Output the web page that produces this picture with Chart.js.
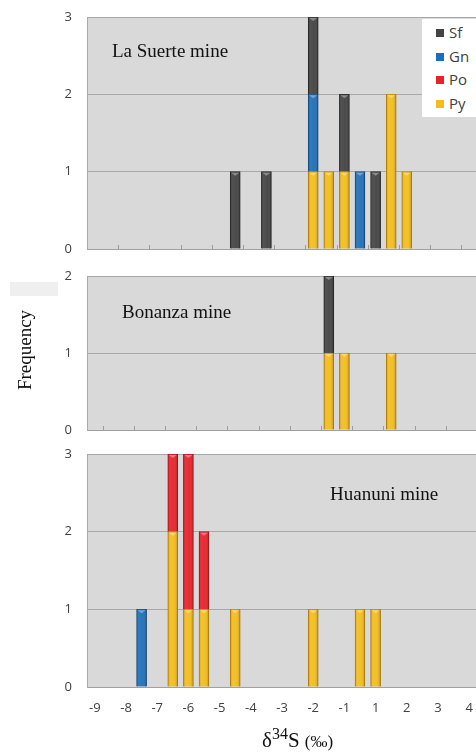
<!DOCTYPE html>
<html>
<head>
<meta charset="utf-8">
<script src="https://cdn.jsdelivr.net/npm/chart.js@4.4.1/dist/chart.umd.min.js"></script>
<style>
  html, body { margin: 0; padding: 0; background: #fff; overflow: hidden; width: 476px; height: 754px; }
  canvas { position: absolute; left: 0; }
  .lbl { position: absolute; font-family: "Liberation Serif", "Times New Roman", serif; color: #111; white-space: nowrap; }
  #legend { position: absolute; left: 422px; top: 19px; width: 60px; height: 98px; background: #fff;
            font-family: "Open Sans", sans-serif; font-size: 15px; color: #404040; }
  #legend div { position: absolute; left: 14px; height: 16px; line-height: 16px; }
  #legend span { display: inline-block; width: 8px; height: 8px; margin-right: 5px; vertical-align: 1px; }
</style>
</head>
<body>
<canvas id="c1" width="480" height="260" style="top:0"></canvas>
<canvas id="c2" width="480" height="180" style="top:260px"></canvas>
<canvas id="c3" width="480" height="314" style="top:440px"></canvas>

<div class="lbl" style="left:112px;top:40px;font-size:19px">La Suerte mine</div>
<div class="lbl" style="left:122px;top:301px;font-size:19px">Bonanza mine</div>
<div class="lbl" style="left:330px;top:483px;font-size:19px">Huanuni mine</div>
<div style="position:absolute;left:10px;top:282px;width:48px;height:14px;background:#efefef"></div>
<div class="lbl" style="left:-20px;top:339px;font-size:19px;width:90px;text-align:center;transform:rotate(-90deg)">Frequency</div>
<div class="lbl" style="left:262px;top:725px;font-size:21px">&delta;<sup style="font-size:16px">34</sup>S <span style="font-size:17px">(&permil;)</span></div>
<div id="legend"></div>

<script>
// delta34S bins along the x axis (as labelled in the figure)
const bins = ['-9','-8.5','-8','-7.5','-7','-6.5','-6','-5.5','-5','-4.5','-4','-3.5','-3',
              '-2.5','-2','-1.5','-1','-0.5','1','1.5','2','2.5','3','3.5','4'];

// La Suerte mine
const suerteSf = [0,0,0,0,0,0,0,0,0,1,0,1,0,0,1,0,1,0,1,0,0,0,0,0,0];
const suerteGn = [0,0,0,0,0,0,0,0,0,0,0,0,0,0,1,0,0,1,0,0,0,0,0,0,0];
const suertePo = [0,0,0,0,0,0,0,0,0,0,0,0,0,0,0,0,0,0,0,0,0,0,0,0,0];
const suertePy = [0,0,0,0,0,0,0,0,0,0,0,0,0,0,1,1,1,0,0,2,1,0,0,0,0];

// Bonanza mine
const bonanzaSf = [0,0,0,0,0,0,0,0,0,0,0,0,0,0,0,1,0,0,0,0,0,0,0,0,0];
const bonanzaGn = [0,0,0,0,0,0,0,0,0,0,0,0,0,0,0,0,0,0,0,0,0,0,0,0,0];
const bonanzaPo = [0,0,0,0,0,0,0,0,0,0,0,0,0,0,0,0,0,0,0,0,0,0,0,0,0];
const bonanzaPy = [0,0,0,0,0,0,0,0,0,0,0,0,0,0,0,1,1,0,0,1,0,0,0,0,0];

// Huanuni mine
const huanuniSf = [0,0,0,0,0,0,0,0,0,0,0,0,0,0,0,0,0,0,0,0,0,0,0,0,0];
const huanuniGn = [0,0,0,1,0,0,0,0,0,0,0,0,0,0,0,0,0,0,0,0,0,0,0,0,0];
const huanuniPo = [0,0,0,0,0,1,2,1,0,0,0,0,0,0,0,0,0,0,0,0,0,0,0,0,0];
const huanuniPy = [0,0,0,0,0,2,1,1,0,1,0,0,0,0,1,0,0,1,1,0,0,0,0,0,0];

const freqTicks1 = [0, 1, 2, 3];
const freqTicks2 = [0, 1, 2];
const freqTicks3 = [0, 1, 2, 3];

const colours = {
  Sf: ['#434343', '#2a2a2a'],
  Gn: ['#1f6fb8', '#15538c'],
  Po: ['#e8222a', '#b5161c'],
  Py: ['#f3bd1e', '#c8900c']
};

// plot background
const bgPlugin = {
  id: 'bg',
  beforeDraw(chart) {
    const a = chart.chartArea, ctx = chart.ctx;
    ctx.save();
    ctx.fillStyle = '#d9d9d9';
    ctx.fillRect(a.left, a.top, a.right - a.left, a.bottom - a.top);
    ctx.restore();
  }
};

// Excel-like shading on bars
const bevelPlugin = {
  id: 'bevel',
  afterDatasetsDraw(chart) {
    const ctx = chart.ctx;
    chart.data.datasets.forEach((ds, di) => {
      chart.getDatasetMeta(di).data.forEach(bar => {
        const h = bar.base - bar.y;
        if (!(h > 0.5)) return;
        const l = bar.x - bar.width / 2, r = bar.x + bar.width / 2;
        const g = ctx.createLinearGradient(l, 0, r, 0);
        g.addColorStop(0, 'rgba(0,0,0,0.22)');
        g.addColorStop(0.25, 'rgba(255,255,255,0.08)');
        g.addColorStop(0.6, 'rgba(255,255,255,0.04)');
        g.addColorStop(1, 'rgba(0,0,0,0.25)');
        ctx.save();
        ctx.fillStyle = g;
        ctx.fillRect(l, bar.y, bar.width, h);
        ctx.fillStyle = 'rgba(255,255,255,0.35)';
        ctx.beginPath();
        ctx.moveTo(l + 1, bar.y + 1);
        ctx.lineTo(r - 1, bar.y + 1);
        ctx.lineTo(bar.x, bar.y + 4);
        ctx.closePath();
        ctx.fill();
        ctx.restore();
      });
    });
  }
};

// small inward tick marks on the baseline
const tickPlugin = {
  id: 'minorTicks',
  afterDraw(chart, args, opts) {
    if (opts.parity === undefined) return;
    const xs = chart.scales.x, a = chart.chartArea, ctx = chart.ctx;
    ctx.save();
    ctx.strokeStyle = '#9c9c9c';
    ctx.lineWidth = 1;
    for (let i = 1; i < bins.length; i++) {
      if (i % 2 !== opts.parity) continue;
      const x = Math.round((xs.getPixelForValue(i - 1) + xs.getPixelForValue(i)) / 2) + 0.5;
      ctx.beginPath();
      ctx.moveTo(x, a.bottom - 4);
      ctx.lineTo(x, a.bottom);
      ctx.stroke();
    }
    ctx.restore();
  }
};

function makeChart(id, sf, gn, po, py, yTicks, pad, showX, parity) {
  const order = [['Py', py], ['Po', po], ['Gn', gn], ['Sf', sf]];
  return new Chart(document.getElementById(id), {
    type: 'bar',
    data: {
      labels: bins,
      datasets: order.map(([name, vals]) => ({
        label: name,
        data: vals,
        backgroundColor: colours[name][0],
        borderColor: colours[name][1],
        borderWidth: 1,
        barThickness: 10
      }))
    },
    options: {
      responsive: false,
      animation: false,
      layout: { padding: { top: pad[0], bottom: pad[1], right: 3, left: 0 } },
      plugins: {
        legend: { display: false },
        tooltip: { enabled: false },
        minorTicks: { parity: parity }
      },
      scales: {
        x: {
          stacked: true,
          grid: { drawOnChartArea: false, drawTicks: false },
          border: { color: '#a0a0a0' },
          ticks: {
            display: showX,
            autoSkip: false,
            maxRotation: 0,
            padding: 13,
            color: '#404040',
            font: { family: 'Open Sans', size: 13 },
            callback: (v, i) => (i % 2 === 0 ? bins[i] : '')
          },
          afterFit: s => {
            s.height = showX ? 40 : 0;
            s.paddingLeft = 0; s.paddingRight = 0;
          }
        },
        y: {
          stacked: true,
          min: 0,
          max: yTicks[yTicks.length - 1],
          afterBuildTicks: s => { s.ticks = yTicks.map(v => ({ value: v })); },
          grid: { color: '#a8a8a8', drawTicks: false },
          border: { color: '#a8a8a8' },
          ticks: {
            padding: 15,
            color: '#404040',
            font: { family: 'Open Sans', size: 13 }
          },
          afterFit: s => {
            s.width = 87;
            s.paddingTop = 0; s.paddingBottom = 0;
          }
        }
      }
    },
    plugins: [bgPlugin, bevelPlugin, tickPlugin]
  });
}

const chart1 = makeChart('c1', suerteSf, suerteGn, suertePo, suertePy, freqTicks1, [17, 11], false, 0);
makeChart('c2', bonanzaSf, bonanzaGn, bonanzaPo, bonanzaPy, freqTicks2, [16, 10], false, 1);
makeChart('c3', huanuniSf, huanuniGn, huanuniPo, huanuniPy, freqTicks3, [14, 27], true, undefined);

// legend built from the datasets (Sf, Gn, Po, Py)
const legend = document.getElementById('legend');
chart1.data.datasets.slice().reverse().forEach((ds, i) => {
  const row = document.createElement('div');
  row.style.top = (5 + i * 23.5) + 'px';
  row.innerHTML = '<span style="background:' + ds.backgroundColor + '"></span>' + ds.label;
  legend.appendChild(row);
});
</script>
</body>
</html>
